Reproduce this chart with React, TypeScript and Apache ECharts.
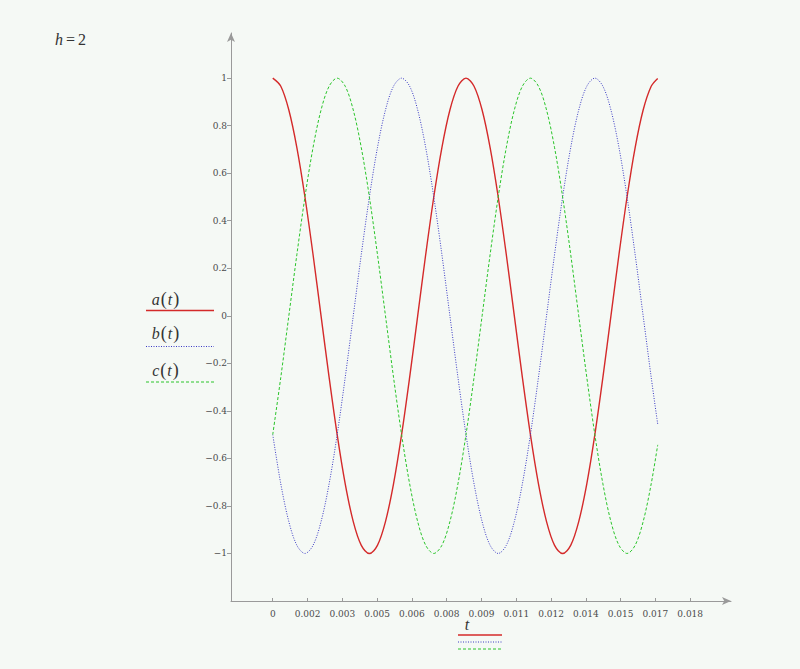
import React, { useEffect, useRef } from "react";
import * as echarts from "echarts";

const tValues = [
  0, 0.000347, 0.000694, 0.001042, 0.001389, 0.001736, 0.002083, 0.002431, 0.002778, 0.003125,
  0.003472, 0.003819, 0.004167, 0.004514, 0.004861, 0.005208, 0.005556, 0.005903, 0.00625, 0.006597,
  0.006944, 0.007292, 0.007639, 0.007986, 0.008333, 0.00868, 0.009028, 0.009375, 0.009722, 0.010069,
  0.010417, 0.010764, 0.011111, 0.011458, 0.011806, 0.012153, 0.0125, 0.012847, 0.013194, 0.013542,
  0.013889, 0.014236, 0.014583, 0.014931, 0.015278, 0.015625, 0.015972, 0.016319, 0.0166,
];

const aValues = [
  1, 0.966, 0.866, 0.707, 0.5, 0.259, 0, -0.259, -0.5, -0.707, -0.866, -0.966,
  -1, -0.966, -0.866, -0.707, -0.5, -0.259, 0, 0.259, 0.5, 0.707, 0.866, 0.966,
  1, 0.966, 0.866, 0.707, 0.5, 0.259, 0, -0.259, -0.5, -0.707, -0.866, -0.966,
  -1, -0.966, -0.866, -0.707, -0.5, -0.259, 0, 0.259, 0.5, 0.707, 0.866, 0.966,
  0.999,
];

const bValues = [
  -0.5, -0.707, -0.866, -0.966, -1, -0.966, -0.866, -0.707, -0.5, -0.259, 0, 0.259,
  0.5, 0.707, 0.866, 0.966, 1, 0.966, 0.866, 0.707, 0.5, 0.259, 0, -0.259,
  -0.5, -0.707, -0.866, -0.966, -1, -0.966, -0.866, -0.707, -0.5, -0.259, 0, 0.259,
  0.5, 0.707, 0.866, 0.966, 1, 0.966, 0.866, 0.707, 0.5, 0.259, 0, -0.259,
  -0.456,
];

const cValues = [
  -0.5, -0.259, 0, 0.259, 0.5, 0.707, 0.866, 0.966, 1, 0.966, 0.866, 0.707,
  0.5, 0.259, 0, -0.259, -0.5, -0.707, -0.866, -0.966, -1, -0.966, -0.866, -0.707,
  -0.5, -0.259, 0, 0.259, 0.5, 0.707, 0.866, 0.966, 1, 0.966, 0.866, 0.707,
  0.5, 0.259, 0, -0.259, -0.5, -0.707, -0.866, -0.966, -1, -0.966, -0.866, -0.707,
  -0.543,
];

const xTickValues = [0, 0.0015, 0.003, 0.0045, 0.006, 0.0075, 0.009, 0.0105, 0.012, 0.0135, 0.015, 0.0165, 0.018];
const xTickLabels = ["0", "0.002", "0.003", "0.005", "0.006", "0.008", "0.009", "0.011", "0.012", "0.014", "0.015", "0.017", "0.018"];

const yTickValues = [-1, -0.8, -0.6, -0.4, -0.2, 0, 0.2, 0.4, 0.6, 0.8, 1];
const yTickLabels = ["\u22121", "\u22120.8", "\u22120.6", "\u22120.4", "\u22120.2", "0", "0.2", "0.4", "0.6", "0.8", "1"];

const seriesNames = ["a", "b", "c"];
const seriesColors = ["#d42a2a", "#3a3ac4", "#2ac42a"];

const SERIF = "DejaVu Serif";
const MATH = "Liberation Serif";

function lookup(values: number[], labels: string[], v: number): string {
  const i = values.findIndex((x) => Math.abs(x - v) < 1e-9);
  return i >= 0 ? labels[i] : "";
}

export default function App() {
  const ref = useRef<HTMLDivElement>(null);

  useEffect(() => {
    if (!ref.current) return;
    const chart = echarts.init(ref.current, null, { renderer: "svg" });
    const lineStyles: any[] = [
      { color: seriesColors[0], width: 1.4, type: "solid" },
      { color: seriesColors[1], width: 1, type: [1, 1.5] },
      { color: seriesColors[2], width: 1, type: [3, 2] },
    ];
    const valueSets = [aValues, bValues, cValues];

    const legendY = [310.5, 346.5, 382];
    const legendTextY = [299, 333, 370];
    const bottomY = [635, 642, 649];

    const graphics: any[] = [
      {
        type: "text",
        left: 55,
        top: 31,
        style: {
          text: "{i|h}{n|=}{d|2}",
          rich: {
            i: { fontFamily: MATH, fontStyle: "italic", fontSize: 16, fill: "#333" },
            n: { fontFamily: MATH, fontSize: 16, fill: "#333", padding: [0, 3, 0, 3] },
            d: { fontFamily: MATH, fontSize: 16, fill: "#333" },
          },
        },
      },
      {
        type: "text",
        x: 467,
        y: 624,
        style: {
          text: "t",
          fontFamily: MATH,
          fontStyle: "italic",
          fontSize: 16,
          fill: "#333",
          align: "center",
          verticalAlign: "middle",
        },
      },
    ];
    seriesNames.forEach((n, i) => {
      graphics.push({
        type: "text",
        x: 166,
        y: legendTextY[i],
        style: {
          text: "{i|" + n + "}{p|(}{i|t}{p|)}",
          align: "center",
          verticalAlign: "middle",
          rich: {
            i: { fontFamily: MATH, fontStyle: "italic", fontSize: 16, fill: "#333" },
            p: { fontFamily: MATH, fontSize: 18, fill: "#333", padding: [0, 1, 0, 1] },
          },
        },
      });
      const ls = lineStyles[i];
      graphics.push({
        type: "line",
        shape: { x1: 146, y1: legendY[i], x2: 214, y2: legendY[i] },
        style: { stroke: ls.color, lineWidth: ls.width, lineDash: ls.type === "solid" ? null : ls.type },
      });
      graphics.push({
        type: "line",
        shape: { x1: 458, y1: bottomY[i], x2: 502, y2: bottomY[i] },
        style: { stroke: ls.color, lineWidth: ls.width, lineDash: ls.type === "solid" ? null : ls.type },
      });
    });

    chart.setOption({
      animation: false,
      backgroundColor: "#f5f9f5",
      grid: { left: 231, right: 69, top: 33, bottom: 68 },
      xAxis: {
        type: "value",
        min: -0.0018,
        max: 0.01976,
        axisLine: {
          show: true,
          onZero: false,
          symbol: ["none", "arrow"],
          symbolSize: [6, 9],
          lineStyle: { color: "#9a9a9a", width: 1 },
        },
        axisTick: {
          show: true,
          inside: true,
          length: 3,
          customValues: xTickValues,
          lineStyle: { color: "#9a9a9a" },
        },
        axisLabel: {
          customValues: xTickValues,
          formatter: (v: number) => lookup(xTickValues, xTickLabels, v),
          fontFamily: SERIF,
          fontSize: 9,
          color: "#4a4a4a",
          margin: 8,
        },
        splitLine: { show: false },
      },
      yAxis: {
        type: "value",
        min: -1.2,
        max: 1.19,
        axisLine: {
          show: true,
          onZero: false,
          symbol: ["none", "arrow"],
          symbolSize: [6, 9],
          lineStyle: { color: "#9a9a9a", width: 1 },
        },
        axisTick: {
          show: true,
          length: 4,
          customValues: yTickValues,
          lineStyle: { color: "#9a9a9a" },
        },
        axisLabel: {
          customValues: yTickValues,
          formatter: (v: number) => lookup(yTickValues, yTickLabels, v),
          fontFamily: SERIF,
          fontSize: 9,
          color: "#4a4a4a",
          margin: 4,
        },
        splitLine: { show: false },
      },
      series: seriesNames.map((n, i) => ({
        name: n,
        type: "line",
        smooth: 0.33,
        showSymbol: false,
        symbol: "none",
        data: tValues.map((t, k) => [t, valueSets[i][k]]),
        lineStyle: lineStyles[i],
        itemStyle: { color: seriesColors[i] },
      })),
      graphic: graphics,
    });

    return () => chart.dispose();
  }, []);

  return (
    <div
      ref={ref}
      style={{ position: "fixed", left: 0, top: 0, width: 800, height: 669 }}
    />
  );
}
